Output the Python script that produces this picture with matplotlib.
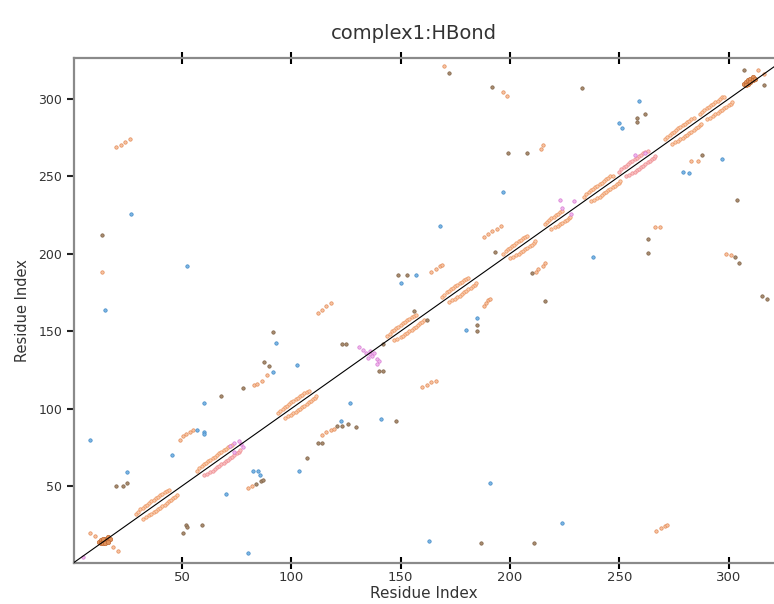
import numpy as np
import matplotlib
matplotlib.use("Agg")
from matplotlib import pyplot as plt

# helix bands, upper side (i, j>i)
hx_up_x = [29, 30, 31, 32, 33, 34, 35, 36, 37, 38, 39, 40, 41, 42, 43, 44,
           57, 58, 59, 60, 61, 62, 63, 64, 65, 66, 67, 68, 69, 70, 71, 72, 73,
           94, 95, 96, 97, 98, 99, 100, 101, 102, 103, 104, 105, 106, 107, 108,
           144, 145, 146, 147, 148, 149, 150, 151, 152, 153, 154, 155, 156, 157,
           169, 170, 171, 172, 173, 174, 175, 176, 177, 178, 179, 180, 181,
           197, 198, 199, 200, 201, 202, 203, 204, 205, 206, 207, 208,
           216, 217, 218, 219, 220, 221, 222, 223, 224,
           234, 235, 236, 237, 238, 239, 240, 241, 242, 243, 244, 245, 246, 247,
           271, 272, 273, 274, 275, 276, 277, 278, 279, 280, 281, 282, 283, 284,
           287, 288, 289, 290, 291, 292, 293, 294, 295, 296, 297, 298]
hx_up_y = [32, 33.5, 35, 36, 37, 38, 39, 40, 41, 42, 43, 44, 45, 46, 47, 47.5,
           60, 61.5, 63, 64, 65, 66, 67, 68, 69, 70, 71, 72, 73, 74, 75, 76, 76.5,
           97, 98.5, 100, 101, 102, 103, 104, 105, 106, 107, 108, 109, 110, 111, 111.5,
           147, 148.5, 150, 151, 152, 153, 154, 155, 156, 157, 158, 159, 160, 160.5,
           172, 173.5, 175, 176, 177, 178, 179, 180, 181, 182, 183, 184, 184.5,
           200, 201.5, 203, 204, 205, 206, 207, 208, 209, 210, 211, 211.5,
           219, 220.5, 222, 223, 224, 225, 226, 227, 227.5,
           237, 238.5, 240, 241, 242, 243, 244, 245, 246, 247, 248, 249, 250, 250.5,
           274, 275.5, 277, 278, 279, 280, 281, 282, 283, 284, 285, 286, 287, 287.5,
           290, 291.5, 293, 294, 295, 296, 297, 298, 299, 300, 301, 301.5]

# helix bands, lower side (j>i, i)
hx_lo_x = [32, 33.5, 35, 36, 37, 38, 39, 40, 41, 42, 43, 44, 45, 46, 47, 47.5,
           97, 98.5, 100, 101, 102, 103, 104, 105, 106, 107, 108, 109, 110, 111, 111.5,
           147, 148.5, 150, 151, 152, 153, 154, 155, 156, 157, 158, 159, 160, 160.5,
           172, 173.5, 175, 176, 177, 178, 179, 180, 181, 182, 183, 184, 184.5,
           200, 201.5, 203, 204, 205, 206, 207, 208, 209, 210, 211, 211.5,
           219, 220.5, 222, 223, 224, 225, 226, 227, 227.5,
           237, 238.5, 240, 241, 242, 243, 244, 245, 246, 247, 248, 249, 250, 250.5,
           274, 275.5, 277, 278, 279, 280, 281, 282, 283, 284, 285, 286, 287, 287.5,
           290, 291.5, 293, 294, 295, 296, 297, 298, 299, 300, 301, 301.5]
hx_lo_y = [29, 30, 31, 32, 33, 34, 35, 36, 37, 38, 39, 40, 41, 42, 43, 44,
           94, 95, 96, 97, 98, 99, 100, 101, 102, 103, 104, 105, 106, 107, 108,
           144, 145, 146, 147, 148, 149, 150, 151, 152, 153, 154, 155, 156, 157,
           169, 170, 171, 172, 173, 174, 175, 176, 177, 178, 179, 180, 181,
           197, 198, 199, 200, 201, 202, 203, 204, 205, 206, 207, 208,
           216, 217, 218, 219, 220, 221, 222, 223, 224,
           234, 235, 236, 237, 238, 239, 240, 241, 242, 243, 244, 245, 246, 247,
           271, 272, 273, 274, 275, 276, 277, 278, 279, 280, 281, 282, 283, 284,
           287, 288, 289, 290, 291, 292, 293, 294, 295, 296, 297, 298]

# salmon coloured bands (60-77 lower side, 250-268 both sides)
salmon_x = [60, 61.5, 63, 64, 65, 66, 67, 68, 69, 70, 71, 72, 73, 74, 75, 76, 76.5,
            250, 251, 252, 253, 254, 255, 256, 257, 258, 259, 260, 261, 262, 263,
            253, 254.5, 256, 257, 258, 259, 260, 261, 262, 263, 264, 265, 266, 266.5]
salmon_y = [57, 58, 59, 60, 61, 62, 63, 64, 65, 66, 67, 68, 69, 70, 71, 72, 73,
            253, 254.5, 256, 257, 258, 259, 260, 261, 262, 263, 264, 265, 266, 266.5,
            250, 251, 252, 253, 254, 255, 256, 257, 258, 259, 260, 261, 262, 263]

# dense blobs on the diagonal
blob_x = [12, 13, 13, 14, 14, 15, 15, 16, 16, 17, 14, 15, 16,
          307, 308, 309, 310, 311, 309, 310, 308, 311, 312]
blob_y = [14, 15, 13, 13, 15, 14, 16, 15, 17, 16, 16, 13, 14,
          310, 311, 312, 313, 314, 310, 311, 309, 312, 313]

# off diagonal contacts
orange_x = [20, 22, 24, 26, 13.4, 49, 50.5, 52, 53.5, 55, 80, 82, 8, 10, 18.4, 20.7,
            83, 84.3, 86.6, 89, 112, 114, 116, 118, 114, 116, 118, 119.5,
            160, 162, 164, 166, 164, 166, 168, 169, 188, 190, 192, 194, 196,
            188, 189, 190, 191, 212, 213, 215, 216, 197, 198.6, 214, 215,
            266.5, 268.7, 283, 286, 299, 301, 267, 269, 271, 272, 313.5, 316, 170]
orange_y = [269, 270.5, 272, 274, 188, 80, 82, 83.5, 85, 86, 49, 50, 19.6, 17.7, 10.6, 8,
            115, 116, 118, 122, 162, 164, 166, 168, 83, 85, 86, 87,
            114, 115, 117, 118, 188, 190, 192, 193, 211, 213, 215, 216, 218,
            166, 168, 170, 171, 188, 190, 192, 194, 304.5, 302, 268, 270,
            217, 217, 260, 260, 200, 199, 21, 23, 24, 25, 318.6, 316, 321]

brown_x = [13.4, 192, 233, 258, 258, 262, 199, 208, 288, 304, 263, 263, 307, 316,
           315.5, 317.6, 91.6, 87.6, 89.9, 78, 68, 121, 123, 126, 129.6, 112, 114,
           107, 148, 149, 153, 193, 156, 162, 185, 185, 140, 142, 123, 125, 52, 52.3,
           50.5, 59, 187, 211, 20, 23, 25, 84, 86, 87, 142, 216, 303, 305, 210, 172]
brown_y = [212, 307.6, 307, 288, 285, 290, 265, 265, 264, 235, 209.6, 200.6, 319, 309,
           173, 171, 149.5, 130, 127.5, 113, 108, 89, 89, 90, 88, 78, 78,
           68, 92, 186, 186, 201, 163, 157, 154, 150, 124, 124, 142, 142, 25, 23.5,
           19.6, 25, 13, 13, 50, 50, 52, 51, 53, 54, 142, 169.5, 198, 194, 187.6, 317]

blue_x = [26.5, 14.8, 52.3, 8, 60, 57, 60, 60, 45.5, 25, 70, 82.6, 84.8, 85.6, 80,
          168, 157, 150, 185, 180, 93, 102.6, 127, 122.6, 141, 103.5, 191, 224,
          163, 259, 250, 251.5, 297, 279, 282, 197, 238, 91.6]
blue_y = [226, 164, 192, 80, 103.6, 86, 85, 83.6, 70, 59, 45, 60, 60, 57, 6.7,
          218, 186, 181, 158.4, 151, 142.5, 128, 103.6, 92, 93, 60, 52, 26,
          14.4, 299, 284.5, 281, 261, 253, 252, 240, 198, 123.6]

pink_x = [131, 133, 134, 136, 137, 138, 139, 140, 136, 135, 139,
          72, 74, 76, 77, 78, 74, 223, 224, 228, 229.5, 4.7, 257, 262]
pink_y = [140, 138, 136, 135, 134, 136, 132, 131, 137, 133, 129,
          76, 78, 79, 77, 75, 72, 234.6, 229.6, 226, 234, 4.2, 264, 265]

fig = plt.figure(figsize=(7.74, 6.04), dpi=100)
ax = fig.add_axes([0.0956, 0.068, 0.9044, 0.836])

ms = 6
lw = 0.5
ax.scatter(hx_up_x, hx_up_y, s=ms, marker='o', color='#F9CBAE', edgecolors='#EC9560', linewidths=lw, zorder=3)
ax.scatter(hx_lo_x, hx_lo_y, s=ms, marker='o', color='#F9CBAE', edgecolors='#EC9560', linewidths=lw, zorder=3)
ax.scatter(salmon_x, salmon_y, s=ms, marker='o', color='#F9C0C0', edgecolors='#EE8C92', linewidths=lw, zorder=3)
ax.scatter(blob_x, blob_y, s=10, marker='o', color='#E0915A', edgecolors='#C06A34', linewidths=lw, zorder=3)
ax.scatter(orange_x, orange_y, s=ms, marker='o', color='#F7C3A2', edgecolors='#E28A55', linewidths=lw, zorder=3)
ax.scatter(brown_x, brown_y, s=ms, marker='o', color='#A88C70', edgecolors='#7E6044', linewidths=lw, zorder=3)
ax.scatter(blue_x, blue_y, s=ms, marker='o', color='#7DB6E4', edgecolors='#3F88C6', linewidths=lw, zorder=3)
ax.scatter(pink_x, pink_y, s=ms, marker='o', color='#F0B8EC', edgecolors='#D67AD4', linewidths=lw, zorder=3)

# diagonal reference line
ax.axline((0, 0), slope=1, color='black', lw=0.8, zorder=4)

ax.set_xlim(0.6, 320.8)
ax.set_ylim(0.3, 326.5)
ax.set_xticks([50, 100, 150, 200, 250, 300])
ax.set_yticks([50, 100, 150, 200, 250, 300])

for side in ['left', 'bottom', 'top']:
    ax.spines[side].set_color('#8a8a8a')
    ax.spines[side].set_linewidth(1.6)
ax.spines['right'].set_visible(False)

ax.tick_params(axis='x', which='both', direction='inout', length=8, width=1.5, color='black',
               labelsize=9.5, labelcolor='#333333', top=True, pad=2)
ax.tick_params(axis='x', which='both', labeltop=False)
ax.tick_params(axis='y', which='both', direction='out', length=5, width=1.5, color='#222222',
               labelsize=9, labelcolor='#333333', right=True)

ax.set_xlabel('Residue Index', fontsize=11, color='#333333', labelpad=1)
ax.set_ylabel('Residue Index', fontsize=10.5, color='#333333', labelpad=6)
ax.set_title('complex1:HBond', fontsize=14, color='#333333', pad=14, x=0.485)

plt.savefig('out.png', dpi=100)
